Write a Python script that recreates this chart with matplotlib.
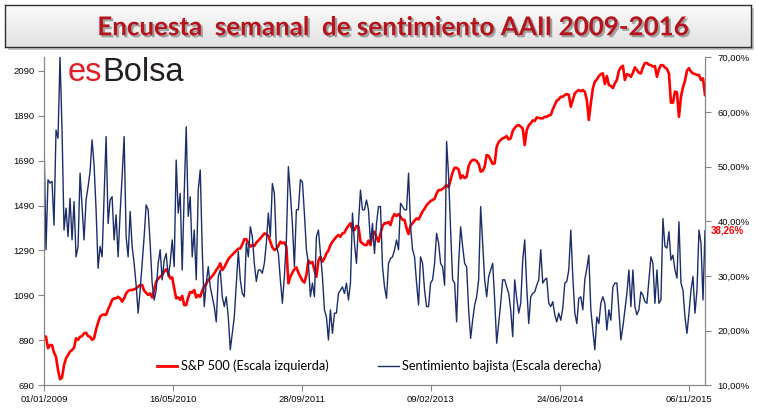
import numpy as np
import pandas as pd
import matplotlib
matplotlib.use("Agg")
import matplotlib.pyplot as plt
import matplotlib.patheffects as pe
from matplotlib.ticker import FuncFormatter
from matplotlib.lines import Line2D

# S&P 500 (escala izquierda)
sp500 = [
    909, 906, 855, 869, 869, 835, 817, 758, 717, 725,
    780, 810, 825, 840, 847, 857, 899, 892, 906, 909,
    921, 924, 909, 906, 892, 899, 939, 969, 995, 1003,
    1006, 1003, 1028, 1047, 1070, 1077, 1077, 1084, 1077, 1062,
    1077, 1099, 1110, 1114, 1114, 1117, 1121, 1129, 1136, 1136,
    1111, 1102, 1092, 1099, 1081, 1114, 1151, 1165, 1173, 1181,
    1196, 1206, 1191, 1166, 1170, 1121, 1077, 1081, 1070, 1088,
    1047, 1047, 1081, 1106, 1102, 1114, 1081, 1092, 1084, 1111,
    1132, 1141, 1159,
    1166, 1176, 1188, 1203, 1215, 1233, 1203, 1215, 1233, 1251,
    1262, 1271, 1280, 1289, 1298, 1299, 1317, 1340, 1340, 1322,
    1307, 1314, 1310, 1325, 1334, 1344, 1354, 1366, 1363, 1354,
    1329, 1304, 1292, 1297, 1311, 1329, 1322, 1326, 1307, 1144,
    1173, 1191, 1206, 1215, 1191, 1173, 1156, 1147, 1181, 1245,
    1233, 1239, 1203, 1173, 1245, 1262, 1240, 1255, 1277, 1290,
    1314, 1329, 1340, 1351, 1359, 1351, 1366, 1369, 1387, 1400,
    1411, 1381, 1381, 1399, 1396, 1329, 1322, 1314, 1314, 1334,
    1314, 1366, 1373,
    1348, 1329, 1366, 1399, 1411, 1411, 1417, 1403, 1436, 1452,
    1443, 1452, 1440, 1426, 1426, 1389, 1363, 1402, 1411, 1423,
    1433, 1428, 1446, 1464, 1476, 1492, 1501, 1510, 1515, 1520,
    1544, 1559, 1559, 1564, 1572, 1581, 1571, 1604, 1638, 1658,
    1658, 1650, 1611, 1624, 1612, 1618, 1666, 1685, 1693, 1693,
    1688, 1675, 1641, 1644, 1663, 1715, 1711, 1693, 1675, 1678,
    1752, 1773, 1782, 1789, 1793, 1799, 1784, 1789, 1822, 1835,
    1845, 1848, 1841, 1833, 1759, 1826, 1847, 1856, 1869, 1866,
    1882, 1880, 1878,
    1878, 1885, 1885, 1891, 1893, 1918, 1937, 1957, 1963, 1974,
    1974, 1982, 1986, 1983, 1930, 1960, 1989, 1998, 2004, 1999,
    2004, 1997, 1960, 1871, 1945, 2011, 2041, 2051, 2066, 2075,
    2078, 2031, 2066, 2026, 2022, 2013, 2034, 2049, 2090, 2105,
    2112, 2049, 2075, 2071, 2063, 2081, 2105, 2093, 2081, 2078,
    2105, 2124, 2124, 2117, 2115, 2108, 2111, 2063, 2096, 2115,
    2114, 2105, 2098, 2078, 1948, 1948, 1997, 1994, 1885, 1974,
    2016, 2045, 2090, 2101, 2086, 2078, 2075, 2071, 2071, 2049,
    2056, 1982,
]

# sentimiento bajista AAII en % (escala derecha)
bajista = [
    54.9, 34.8, 47.6, 47.0, 47.3, 39.3, 56.7, 55.2, 70.1, 56.7,
    38.4, 42.4, 37.2, 44.2, 36.6, 43.6, 33.5, 35.4, 48.8, 42.7,
    36.6, 43.9, 46.3, 49.1, 54.9, 50.3, 42.1, 31.4, 35.4, 33.5,
    44.5, 55.5, 39.6, 43.9, 44.5, 36.6, 41.2, 33.5, 41.5, 48.2,
    55.5, 37.2, 33.5, 41.8, 35.4, 32.3, 28.3, 23.2, 27.4, 32.3,
    37.2, 43.0, 42.1, 35.9, 28.7, 25.6, 27.4, 32.3, 34.8, 29.3,
    32.9, 34.1, 29.9, 32.3, 36.6, 31.7, 51.2, 41.5, 45.1, 31.1,
    45.1, 57.3, 40.9, 44.5, 33.5, 38.4, 29.3, 45.7, 49.4, 34.8,
    24.4, 28.7, 31.7,
    28.0, 26.2, 24.4, 21.6, 29.9, 31.1, 26.2, 24.4, 26.2, 22.5,
    16.5, 19.5, 22.5, 28.6, 34.5, 29.3, 26.8, 26.2, 36.0, 33.5,
    39.0, 37.2, 32.3, 29.0, 31.1, 31.1, 30.5, 32.3, 36.0, 41.5,
    37.2, 46.9, 45.1, 35.4, 34.1, 29.3, 25.0, 29.9, 36.6, 50.0,
    45.1, 39.6, 31.7, 42.1, 42.1, 47.6, 47.2, 41.5, 34.8, 32.3,
    26.2, 28.7, 26.2, 37.2, 38.4, 34.1, 29.9, 23.8, 22.5, 18.3,
    23.8, 19.5, 23.2, 23.2, 26.8, 27.4, 28.0, 26.8, 28.7, 25.6,
    28.7, 41.5, 36.0, 32.3, 39.6, 45.7, 42.1, 42.1, 43.9, 42.1,
    36.0, 39.6, 34.1,
    39.6, 42.7, 42.7, 31.7, 28.0, 25.9, 32.3, 33.2, 33.5, 34.8,
    36.6, 34.8, 43.3, 42.7, 42.1, 42.1, 48.8, 39.0, 34.8, 33.5,
    28.7, 24.7, 33.5, 32.3, 27.4, 24.4, 24.4, 28.7, 29.3, 32.3,
    37.8, 36.0, 32.3, 31.7, 28.3, 54.6, 48.2, 38.4, 29.3, 28.7,
    21.6, 32.3, 39.0, 35.4, 32.3, 31.7, 23.8, 18.6, 21.9, 24.7,
    26.2, 29.3, 42.7, 36.0, 29.3, 26.2, 29.9, 31.1, 32.3, 25.6,
    17.7, 21.3, 25.0, 29.3, 29.3, 28.0, 26.8, 23.8, 18.9, 29.3,
    25.9, 23.2, 25.0, 32.9, 36.6, 28.0, 21.3, 26.2, 26.8, 27.1,
    28.3, 29.3, 34.8,
    28.7, 29.3, 29.6, 25.0, 24.4, 25.3, 22.9, 21.6, 23.2, 21.9,
    24.1, 28.7, 29.0, 31.1, 38.4, 29.9, 23.2, 21.3, 25.9, 26.2,
    23.8, 29.3, 31.4, 33.8, 23.8, 20.1, 16.5, 22.5, 21.3, 25.0,
    26.2, 25.0, 20.1, 23.8, 21.9, 28.0, 28.7, 28.7, 23.8, 18.3,
    20.7, 23.8, 26.8, 31.1, 24.4, 31.1, 24.4, 22.9, 23.8, 27.1,
    26.5, 25.3, 25.0, 29.3, 33.5, 32.3, 25.0, 31.1, 25.0, 25.6,
    40.5, 35.4, 35.1, 38.1, 32.9, 33.8, 31.1, 29.6, 39.9, 28.7,
    27.4, 22.5, 19.5, 23.2, 27.4, 29.9, 23.2, 27.4, 38.4, 36.0,
    25.6, 38.26,
]

fechas = pd.date_range("2009-01-01", "2016-01-08", periods=len(sp500))
ticks_izq = [690, 890, 1090, 1290, 1490, 1690, 1890, 2090]
ticks_der = [10, 20, 30, 40, 50, 60, 70]
ticks_x = pd.date_range("2009-01-01", periods=6, freq="500D")

titulo = "Encuesta  semanal  de sentimiento AAII 2009-2016"
etiquetas = ["S&P 500 (Escala izquierda)", "Sentimiento bajista (Escala derecha)"]

W, H = 757, 408
fig = plt.figure(figsize=(W / 100, H / 100), dpi=100)
fig.patch.set_facecolor("white")

# sombra y caja del titulo
sax = fig.add_axes([8 / W, 1 - 50 / H, 746 / W, 42 / H])
sax.set_facecolor("#c4c4c4")
sax.set_xticks([])
sax.set_yticks([])
for s in sax.spines.values():
    s.set_visible(False)

tax = fig.add_axes([5 / W, 1 - 47 / H, 746 / W, 42 / H])
grad = np.linspace(0, 1, 50).reshape(-1, 1)
tax.imshow(grad, cmap=matplotlib.colors.LinearSegmentedColormap.from_list("g", ["#fbfbfb", "#e2e2e2"]),
           aspect="auto", extent=[0, 1, 0, 1])
tax.set_xticks([])
tax.set_yticks([])
for s in tax.spines.values():
    s.set_color("#303030")
    s.set_linewidth(1.0)
tax.text(0.5 + 16 / 746, 0.47, titulo, ha="center", va="center", fontsize=18.7, fontweight="bold",
         family="Lato", color="#b5141c",
         path_effects=[pe.withSimplePatchShadow(offset=(1.5, -1.5), shadow_rgbFace="#707070", alpha=0.6)])

# grafico principal
ax = fig.add_axes([44 / W, 1 - 385.3 / H, 661 / W, 328 / H])
ax2 = ax.twinx()

ax.plot(fechas, sp500, color="#ff0000", lw=1.9, solid_joinstyle="round")
ax2.plot(fechas, bajista, color="#1b2d6b", lw=1.0)

ax.set_xlim(fechas[0], fechas[-1])
ax.set_ylim(690, 690 + 328 / 44.94 * 200)
ax2.set_ylim(10, 70)

ax.set_yticks(ticks_izq)
ax2.set_yticks(ticks_der)
ax2.yaxis.set_major_formatter(FuncFormatter(lambda v, p: f"{v:.2f}".replace(".", ",") + "%"))
ax.set_xticks(ticks_x)
ax.set_xticklabels([d.strftime("%d/%m/%Y") for d in ticks_x])

gris = "#868686"
for a in (ax, ax2):
    a.spines["top"].set_visible(False)
    for s in ("left", "right", "bottom"):
        a.spines[s].set_color(gris)
    a.tick_params(colors=gris, labelcolor="#0a0a0a", length=4, width=0.8, labelsize=6.8)
    for lab in a.get_xticklabels() + a.get_yticklabels():
        lab.set_family("Liberation Sans")
ax.tick_params(axis="x", pad=3)
ax.tick_params(axis="y", pad=3)
ax2.tick_params(axis="y", pad=5)

# ultimo valor
ax2.annotate(f"{bajista[-1]:.2f}".replace(".", ",") + "%", xy=(1, bajista[-1]),
             xycoords=("axes fraction", "data"), xytext=(6, 0), textcoords="offset pixels",
             va="center", ha="left", color="#ff0000", fontsize=7, fontweight="bold",
             family="Liberation Sans")

# leyenda
handles = [Line2D([], [], color="#ff0000", lw=2.0), Line2D([], [], color="#1b2d6b", lw=1.0)]
leg = ax2.legend(handles, etiquetas, loc="center left", bbox_to_anchor=(157 / W, 1 - 366 / H),
                 bbox_transform=fig.transFigure, ncol=2, frameon=False, borderpad=0,
                 borderaxespad=0, handlelength=1.6, handletextpad=0.25, columnspacing=3.9,
                 prop={"family": "Lato", "size": 9.2})

# logo
t_es = fig.text(68 / W, 1 - 88 / H, "es", color="#e31e24", fontsize=23.5, family="Liberation Sans",
                va="bottom", ha="left")
ax2.annotate("Bolsa", xy=(1, 0), xycoords=t_es, va="bottom", ha="left", color="#231f20",
             fontsize=23.5, family="Liberation Sans", annotation_clip=False)

fig.savefig("out.png", dpi=100)
